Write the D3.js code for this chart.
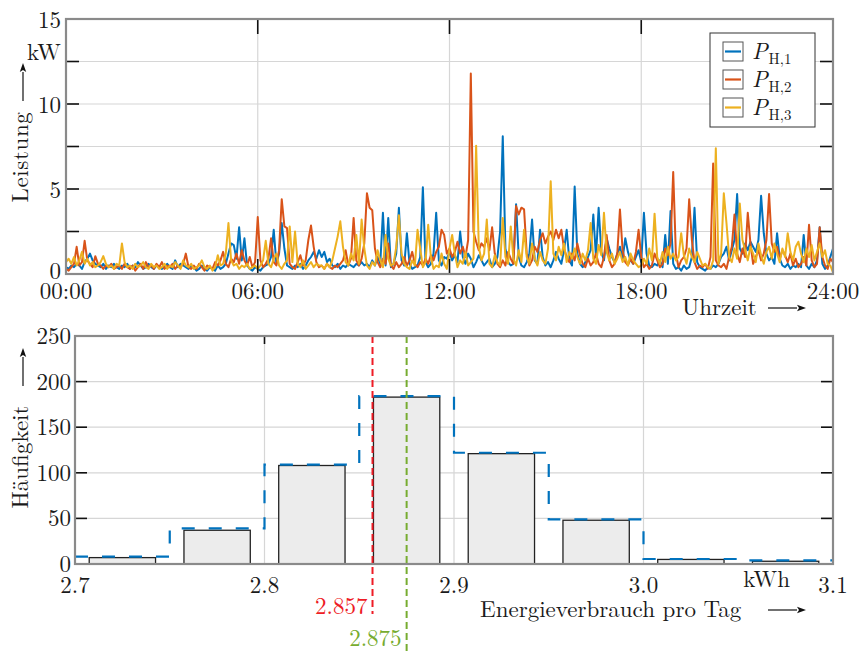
<!DOCTYPE html>
<html><head><meta charset="utf-8">
<script src="https://cdn.jsdelivr.net/npm/d3@7"></script>
<style>
body{margin:0;background:#fff}
text{font-family:"Latin Modern Roman","CMU Serif","Liberation Serif",serif;fill:#1a1a1a}
</style>
</head><body><svg id="c" width="861" height="651"></svg>
<script>
// ---------- data: household power, 5-minute samples (kW) ----------
const stepMinutes = 5;
const P_H1 = [
 0.4,0.3,0.5,0.4,0.6,0.5,0.3,0.7,0.9,1.2,0.8,0.6,
 0.5,0.4,0.6,0.3,0.5,0.4,0.6,0.4,0.3,0.5,0.4,0.6,
 0.3,0.5,0.4,0.7,0.5,0.3,0.4,0.6,0.4,0.3,0.5,0.4,
 0.3,0.4,0.6,0.4,0.3,0.8,0.4,0.6,0.5,0.4,0.3,0.5,
 0.4,0.2,0.3,0.5,0.3,0.2,0.4,0.3,0.2,0.5,0.3,0.4,
 0.6,1.2,1.8,1.7,0.9,2.75,0.8,2.1,0.5,0.3,0.2,0.4,
 0.3,0.2,0.4,0.5,0.6,1.0,2.6,0.6,1.2,3.0,1.5,0.5,
 0.4,0.3,0.5,0.4,0.6,0.3,0.5,0.8,1.0,1.3,0.9,1.4,
 1.0,1.3,0.7,0.9,0.5,0.4,0.6,0.3,0.5,0.4,0.6,0.5,
 0.4,0.6,0.5,0.7,0.5,0.6,0.4,0.8,0.5,1.0,0.6,3.6,
 0.5,3.3,0.4,0.6,1.2,3.9,0.8,0.5,2.4,0.6,0.3,0.4,
 0.5,1.0,5.1,0.7,0.4,0.6,1.2,3.6,0.8,0.5,1.0,0.9,
 1.3,0.8,1.1,0.7,2.5,1.0,0.6,1.2,0.9,0.4,0.7,1.1,
 0.8,0.5,0.7,0.9,0.4,0.6,1.0,2.5,8.1,1.5,0.7,0.5,
 0.6,4.1,1.0,0.5,0.4,0.7,1.2,3.2,0.8,0.6,2.6,1.0,
 0.5,0.7,0.4,0.8,1.3,0.9,0.6,1.4,2.6,0.8,0.5,5.15,
 1.2,0.6,0.4,0.7,1.0,1.4,3.5,1.0,3.9,1.3,0.8,2.1,
 1.5,1.0,0.7,1.2,1.6,0.9,2.1,1.3,0.8,0.6,1.0,1.4,
 0.7,3.6,1.2,0.5,0.4,0.6,0.5,0.8,0.4,2.3,0.6,3.7,
 0.6,0.3,0.4,0.2,0.5,0.3,0.4,1.0,3.9,0.7,0.4,0.3,
 0.2,0.4,0.3,0.5,0.4,0.6,1.0,1.2,1.6,0.8,1.4,2.0,
 4.7,1.5,1.2,1.8,1.4,1.9,1.6,1.3,2.0,4.6,2.4,1.2,
 0.8,1.0,0.6,2.4,0.9,0.5,0.4,0.6,0.3,0.5,0.4,0.6,
 0.4,2.3,0.5,0.3,0.6,0.4,0.8,2.75,0.6,0.3,0.5,1.0,
 1.5];
const P_H2 = [
 0.3,0.2,0.4,0.6,1.6,0.5,0.7,1.95,0.8,0.6,0.4,1.05,
 0.6,0.5,0.3,0.5,0.4,0.6,0.3,0.4,0.5,0.3,0.6,0.4,
 0.3,0.5,0.2,0.4,0.6,0.3,0.7,0.4,0.5,0.3,0.6,0.4,
 0.7,0.3,0.5,0.4,0.6,0.3,0.5,0.4,0.6,1.2,0.4,0.3,
 0.5,0.3,0.6,0.4,0.2,0.5,0.4,0.3,0.7,0.5,0.8,1.3,
 0.6,0.4,0.9,0.7,1.2,0.6,1.4,0.8,0.5,1.0,0.4,0.7,
 3.35,0.8,0.4,0.6,0.9,2.1,0.7,0.5,1.4,4.4,2.8,2.7,
 0.6,0.4,0.3,0.7,1.1,0.5,0.8,2.0,2.85,1.6,0.7,0.4,
 0.5,0.3,0.6,0.4,0.3,0.5,0.4,0.6,0.8,1.4,0.5,0.9,
 3.3,0.8,0.5,0.9,1.8,4.75,3.9,3.75,1.5,0.7,0.4,0.9,
 0.6,1.8,0.5,0.3,0.7,0.4,0.6,1.0,0.5,0.8,1.3,0.6,
 0.4,0.7,0.5,0.9,0.6,1.1,0.8,1.3,1.6,2.6,2.3,1.2,
 1.5,1.0,1.3,1.9,1.2,1.6,1.0,2.0,11.8,2.5,1.9,1.4,
 1.8,1.6,2.1,1.4,2.75,1.2,0.6,0.4,0.8,0.5,1.3,0.9,
 0.6,4.0,3.5,3.9,3.8,1.2,0.5,0.8,1.6,1.3,2.0,2.4,
 1.8,2.2,2.5,2.0,2.6,2.1,2.6,1.5,1.0,0.7,1.2,0.8,
 1.8,1.1,0.6,0.4,0.9,0.5,0.7,1.2,0.6,0.4,1.0,2.3,
 0.8,0.4,0.6,1.2,3.8,1.4,0.7,0.5,0.9,0.6,1.3,2.6,
 1.0,0.4,0.6,0.3,0.5,1.2,0.8,0.4,0.6,1.5,1.1,1.8,
 6.0,1.2,0.4,0.8,1.0,1.5,4.4,2.0,0.7,0.3,0.5,0.4,
 0.6,0.3,1.0,6.5,0.8,0.5,0.4,0.6,0.3,1.0,1.6,3.5,
 1.2,0.7,1.5,1.0,3.6,1.8,0.6,1.0,1.4,0.8,1.2,2.0,
 4.7,1.8,1.3,1.6,0.9,1.4,1.1,0.7,1.2,0.5,0.9,0.4,
 0.6,1.0,0.5,2.9,0.8,0.4,0.6,2.75,1.0,0.5,0.3,0.9,
 0.7];
const P_H3 = [
 0.7,0.9,0.6,1.0,0.5,0.8,1.3,0.6,0.9,0.5,0.7,0.4,
 0.5,0.7,1.05,0.6,0.4,0.5,0.3,0.6,0.5,1.8,0.7,0.4,
 0.5,0.3,0.6,0.4,0.5,0.7,0.4,0.3,0.6,0.4,0.5,0.3,
 0.4,0.6,0.3,0.5,0.4,0.7,0.5,0.3,0.8,0.5,0.4,0.6,
 0.3,0.4,0.5,0.8,0.4,0.3,0.5,0.2,0.4,1.1,0.5,0.6,
 1.2,3.0,0.8,0.5,0.6,0.3,0.5,0.4,0.6,0.3,0.4,0.5,
 0.3,0.5,0.8,1.95,0.6,0.4,0.9,1.2,0.5,0.3,0.6,0.8,
 2.8,0.7,2.5,0.6,0.4,0.8,0.3,0.5,0.7,0.4,0.6,0.5,
 0.5,0.3,0.6,0.4,0.8,1.5,2.2,3.1,1.6,0.7,0.5,1.2,
 0.8,2.3,0.6,3.2,1.5,0.5,0.3,0.7,0.5,1.4,0.8,0.4,
 2.3,0.9,0.5,0.6,1.6,3.45,1.2,0.6,0.4,0.3,0.8,0.5,
 2.6,1.5,0.4,0.7,2.9,1.0,0.3,0.5,0.4,1.2,0.6,0.3,
 1.5,2.3,1.2,0.4,0.8,0.6,1.3,0.5,0.7,0.9,7.55,1.6,
 0.8,1.2,3.2,0.6,0.4,1.1,0.7,0.5,3.3,1.0,0.6,2.8,
 0.9,0.5,1.4,0.7,2.6,1.0,0.6,1.8,0.9,0.5,1.3,0.8,
 0.6,1.5,5.45,1.2,0.8,1.6,1.1,1.8,0.7,1.3,0.9,1.5,
 1.0,0.6,1.2,0.8,1.4,3.0,0.9,0.6,1.7,1.1,3.6,1.3,
 0.8,1.2,0.6,0.9,1.3,0.7,1.0,0.5,1.2,0.8,0.6,0.4,
 0.5,0.9,0.6,1.5,0.8,3.55,1.0,0.6,1.3,0.7,1.6,0.9,
 1.2,0.8,1.0,2.4,1.1,0.6,1.5,1.0,0.7,1.3,0.9,0.5,
 0.6,0.4,0.3,0.8,7.4,0.6,1.2,4.75,3.0,1.0,0.7,1.5,
 0.9,4.15,2.0,1.4,0.8,1.6,1.2,0.7,1.8,1.1,0.6,1.3,
 1.6,0.9,1.8,1.2,0.7,1.5,1.0,2.4,1.3,0.8,1.6,1.9,
 1.2,0.7,1.5,1.0,1.7,0.8,1.3,1.8,1.0,1.4,0.6,0.5,
 0.1];
const seriesLabels = ["H,1","H,2","H,3"];
const seriesColors = ["#0072BD","#D95319","#EDB120"];
const timeTicks = [0,6,12,18,24];
const timeTickLabels = ["00:00","06:00","12:00","18:00","24:00"];
const powerTicks = [0,5,10,15];
const powerGrid = [2.5,5,7.5,10,12.5];

// ---------- data: histogram of daily energy ----------
const binLeftEdges = [2.70,2.75,2.80,2.85,2.90,2.95,3.00,3.05];
const binWidth = 0.05;
const counts =    [7,37,108,183,121,48,5,3];
const fitCounts = [8,39,109,184,122,49,5.5,4];
const energyTicks = [2.7,2.8,2.9,3.0,3.1];
const energyTickLabels = ["2.7","2.8","2.9","3.0","3.1"];
const countTicks = [0,50,100,150,200,250];
const markerValues = [2.857,2.875];
const markerLabels = ["2.857","2.875"];
const markerColors = ["#ee1c25","#77ac30"];

// ---------- drawing ----------
const svg = d3.select("#c");
const gridC = "#d6d6d6", borderC = "#8a8a8a", tickC = "#111";
const FS = 23;

function arrow(g, x1, y1, x2, y2){
  const ang = Math.atan2(y2-y1, x2-x1);
  const L = 9, W = 3.2;
  const bx = x2 - L*Math.cos(ang), by = y2 - L*Math.sin(ang);
  g.append("line").attr("x1",x1).attr("y1",y1).attr("x2",bx).attr("y2",by)
    .attr("stroke","#111").attr("stroke-width",1.2);
  g.append("path").attr("d",`M${x2},${y2}L${bx - W*Math.sin(ang)},${by + W*Math.cos(ang)}L${bx+2*Math.cos(ang)},${by+2*Math.sin(ang)}L${bx + W*Math.sin(ang)},${by - W*Math.cos(ang)}Z`)
    .attr("fill","#111");
}

// ===== top chart =====
const xT = d3.scaleLinear().domain([0,24]).range([66,833]);
const yT = d3.scaleLinear().domain([0,15]).range([274,19]);
const gTop = svg.append("g");
svg.append("defs").append("clipPath").attr("id","clipT").append("rect")
  .attr("x",66).attr("y",19).attr("width",767).attr("height",255);

gTop.selectAll("line.hg").data(powerGrid).join("line")
  .attr("x1",xT(0)).attr("x2",xT(24)).attr("y1",d=>yT(d)).attr("y2",d=>yT(d))
  .attr("stroke",gridC).attr("stroke-width",1.2);
gTop.selectAll("line.vg").data(timeTicks.slice(1,4)).join("line")
  .attr("y1",yT(0)).attr("y2",yT(15)).attr("x1",d=>xT(d)).attr("x2",d=>xT(d))
  .attr("stroke",gridC).attr("stroke-width",1.2);

const series = [P_H1,P_H2,P_H3];
const line = d3.line().x((d,i)=>xT(i*stepMinutes/60)).y(d=>yT(d));
const lg = gTop.append("g").attr("clip-path","url(#clipT)");
series.forEach((s,k)=>{
  lg.append("path").attr("d",line(s)).attr("fill","none")
    .attr("stroke",seriesColors[k]).attr("stroke-width",2).attr("stroke-linejoin","round");
});

// ticks
timeTicks.slice(1,4).forEach(t=>{
  gTop.append("line").attr("x1",xT(t)).attr("x2",xT(t)).attr("y1",yT(15)).attr("y2",yT(15)+15).attr("stroke",tickC).attr("stroke-width",1.6);
  gTop.append("line").attr("x1",xT(t)).attr("x2",xT(t)).attr("y1",yT(0)).attr("y2",yT(0)-15).attr("stroke",tickC).attr("stroke-width",1.6);
});
powerGrid.forEach(v=>{
  gTop.append("line").attr("x1",xT(0)).attr("x2",xT(0)+13).attr("y1",yT(v)).attr("y2",yT(v)).attr("stroke",tickC).attr("stroke-width",1.6);
  gTop.append("line").attr("x1",xT(24)).attr("x2",xT(24)-13).attr("y1",yT(v)).attr("y2",yT(v)).attr("stroke",tickC).attr("stroke-width",1.6);
});
gTop.append("rect").attr("x",66).attr("y",19).attr("width",767).attr("height",255)
  .attr("fill","none").attr("stroke",borderC).attr("stroke-width",2.2);

gTop.selectAll("text.yl").data(powerTicks).join("text")
  .attr("x",61).attr("y",d=>d===0 ? yT(d)+5 : yT(d)+9).attr("text-anchor","end").attr("font-size",FS).text(d=>d);
gTop.selectAll("text.xl").data(timeTicks).join("text")
  .attr("x",d=>xT(d)).attr("y",299).attr("text-anchor","middle").attr("font-size",FS)
  .text((d,i)=>timeTickLabels[i]);
gTop.append("text").attr("x",61).attr("y",60).attr("text-anchor","end").attr("font-size",FS).text("kW");
gTop.append("text").attr("transform","translate(28,157) rotate(-90)").attr("text-anchor","middle")
  .attr("font-size",FS).attr("letter-spacing",0.6).text("Leistung");
arrow(gTop, 23, 101, 23, 63);
gTop.append("text").attr("x",682).attr("y",315).attr("font-size",FS).text("Uhrzeit");
arrow(gTop, 768, 308, 806, 308);

// legend
const leg = gTop.append("g");
leg.append("rect").attr("x",710).attr("y",33).attr("width",105).attr("height",94)
  .attr("fill","#fff").attr("stroke","#333").attr("stroke-width",1);
seriesLabels.forEach((lab,k)=>{
  const cy = 51.5 + 28*k;
  leg.append("rect").attr("x",723).attr("y",cy-9.5).attr("width",20).attr("height",19)
    .attr("fill","#fff").attr("stroke","#555").attr("stroke-width",1);
  leg.append("line").attr("x1",725).attr("x2",741).attr("y1",cy).attr("y2",cy)
    .attr("stroke",seriesColors[k]).attr("stroke-width",2.2);
  const t = leg.append("text").attr("x",752).attr("y",cy+7).attr("font-size",FS);
  t.append("tspan").attr("font-style","italic").text("P");
  t.append("tspan").attr("font-size",15).attr("dy",5).attr("dx",1).text(lab);
});

// ===== bottom chart =====
const xB = d3.scaleLinear().domain([2.7,3.1]).range([75,833]);
const yB = d3.scaleLinear().domain([0,250]).range([564,336]);
const bot = svg.append("g");
bot.selectAll("line.hg").data(countTicks.slice(1,5)).join("line")
  .attr("x1",xB(2.7)).attr("x2",xB(3.1)).attr("y1",d=>yB(d)).attr("y2",d=>yB(d))
  .attr("stroke",gridC).attr("stroke-width",1.2);
bot.selectAll("line.vg").data(energyTicks.slice(1,4)).join("line")
  .attr("x1",d=>xB(d)).attr("x2",d=>xB(d)).attr("y1",yB(0)).attr("y2",yB(250))
  .attr("stroke",gridC).attr("stroke-width",1.2);

const barW = binWidth*0.7;
bot.selectAll("rect.bar").data(counts).join("rect")
  .attr("x",(d,i)=>xB(binLeftEdges[i]+binWidth/2-barW/2))
  .attr("width",(d,i)=>xB(binLeftEdges[i]+binWidth/2+barW/2)-xB(binLeftEdges[i]+binWidth/2-barW/2))
  .attr("y",d=>yB(d)).attr("height",d=>yB(0)-yB(d))
  .attr("fill","#ececec").attr("stroke","#222").attr("stroke-width",1.3);

const stairPts = binLeftEdges.map((e,i)=>[e,fitCounts[i]]);
stairPts.push([binLeftEdges[binLeftEdges.length-1]+binWidth, fitCounts[fitCounts.length-1]]);
const stair = d3.line().curve(d3.curveStepAfter).x(d=>xB(d[0])).y(d=>yB(d[1]));
bot.append("path").attr("d",stair(stairPts)).attr("fill","none")
  .attr("stroke","#0072BD").attr("stroke-width",2.2).attr("stroke-dasharray","13,14");

markerValues.forEach((v,k)=>{
  const yEnd = k===0 ? 614 : 651;
  bot.append("line").attr("x1",xB(v)).attr("x2",xB(v)).attr("y1",yB(250)).attr("y2",yEnd)
    .attr("stroke",markerColors[k]).attr("stroke-width",2).attr("stroke-dasharray","7,4");
  bot.append("text").attr("x",xB(v)-5).attr("y",k===0?614:646).attr("text-anchor","end")
    .attr("font-size",FS).style("fill",markerColors[k]).text(markerLabels[k]);
});

energyTicks.slice(1,4).forEach(t=>{
  bot.append("line").attr("x1",xB(t)).attr("x2",xB(t)).attr("y1",yB(250)).attr("y2",yB(250)+8).attr("stroke",tickC).attr("stroke-width",1.6);
});
countTicks.slice(1,5).forEach(v=>{
  bot.append("line").attr("x1",xB(2.7)).attr("x2",xB(2.7)+12).attr("y1",yB(v)).attr("y2",yB(v)).attr("stroke",tickC).attr("stroke-width",1.6);
  bot.append("line").attr("x1",xB(3.1)).attr("x2",xB(3.1)-12).attr("y1",yB(v)).attr("y2",yB(v)).attr("stroke",tickC).attr("stroke-width",1.6);
});
bot.append("rect").attr("x",75).attr("y",336).attr("width",758).attr("height",228)
  .attr("fill","none").attr("stroke",borderC).attr("stroke-width",2.2);

bot.selectAll("text.yl").data(countTicks).join("text")
  .attr("x",71).attr("y",d=>yB(d)+8).attr("text-anchor","end").attr("font-size",FS).text(d=>d);
bot.selectAll("text.xl").data(energyTicks).join("text")
  .attr("x",d=>xB(d)).attr("y",593).attr("text-anchor","middle").attr("font-size",FS)
  .text((d,i)=>energyTickLabels[i]);
bot.append("text").attr("x",790).attr("y",587).attr("text-anchor","end").attr("font-size",FS).text("kWh");
bot.append("text").attr("x",480).attr("y",617).attr("font-size",FS).text("Energieverbrauch pro Tag");
arrow(bot, 768, 610, 806, 610);
bot.append("text").attr("transform","translate(28,457) rotate(-90)").attr("text-anchor","middle")
  .attr("font-size",FS).text("Häufigkeit");
arrow(bot, 23, 386, 23, 348);
</script></body></html>
